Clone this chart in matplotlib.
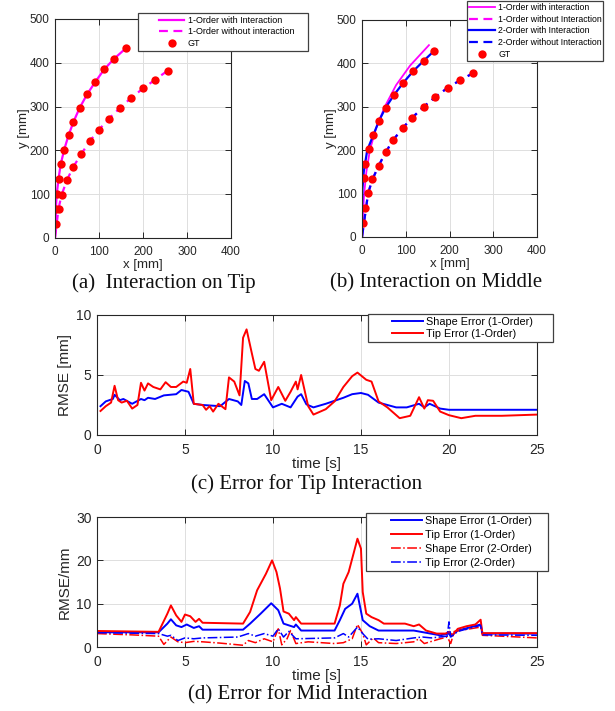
import numpy as np
import matplotlib
matplotlib.use("Agg")
import matplotlib.pyplot as plt
from matplotlib.lines import Line2D
from matplotlib.legend_handler import HandlerLine2D

plt.rcParams['font.family'] = ['Liberation Sans', 'DejaVu Sans']

# ---- (a) Interaction on Tip : GT points [mm]
a_up_x = [2, 2, 4, 8, 13, 21, 31, 42, 56, 73, 92, 112, 134, 161]
a_up_y = [33, 67, 100, 135, 168, 202, 235, 265, 297, 328, 357, 385, 409, 433]
a_lo_x = [8, 15, 27, 42, 60, 79, 99, 122, 147, 173, 201, 227, 256]
a_lo_y = [67, 98, 132, 163, 192, 221, 246, 272, 296, 320, 342, 361, 382]

# ---- (b) Interaction on Middle : GT points and model curves [mm]
b_up_x = [2, 6, 5, 8, 16, 26, 39, 54, 73, 94, 117, 141, 164]
b_up_y = [33, 67, 135, 169, 202, 235, 268, 298, 327, 355, 382, 406, 428]
b_lo_x = [14, 24, 38, 54, 71, 93, 115, 141, 167, 196, 224, 253]
b_lo_y = [101, 133, 164, 195, 223, 251, 275, 300, 322, 344, 361, 377]
b_m1_x = [0, 2, 5, 10, 18, 32, 52, 78, 110, 153]
b_m1_y = [0, 50, 100, 150, 200, 250, 300, 350, 395, 442]
b_m2_x = [0, 0, 1, 4, 12, 26, 39, 54, 73, 94, 117, 141, 164]
b_m2_y = [0, 60, 110, 150, 200, 235, 268, 298, 327, 355, 382, 406, 428]

# ---- (c) Error for Tip Interaction
c_shape_t = [0.2, 0.5, 0.9, 1.0, 1.3, 1.5, 2.0, 2.5, 2.7, 2.9, 3.3, 3.8, 4.5, 4.8, 5.2, 5.5, 6.0,
             7.0, 7.5, 8.0, 8.2, 8.4, 8.6, 8.8, 9.1, 9.5, 10.0, 10.5, 11.0, 11.4, 11.6, 11.9, 12.3,
             13.0, 13.5, 14.0, 14.5, 15.0, 15.4, 16.0, 17.0, 17.6, 18.3, 18.6, 18.9, 19.5, 20.0, 25.0]
c_shape_v = [2.4, 2.8, 3.0, 3.35, 2.9, 3.0, 2.6, 3.0, 2.9, 3.1, 3.0, 3.3, 3.4, 3.75, 3.6, 2.6, 2.5,
             2.4, 3.0, 2.8, 2.5, 4.5, 4.3, 3.0, 3.0, 3.4, 2.3, 2.6, 2.3, 3.2, 3.4, 2.55, 2.3,
             2.6, 2.85, 3.1, 3.4, 3.5, 3.35, 2.7, 2.3, 2.3, 2.6, 2.3, 2.6, 2.2, 2.1, 2.1]
c_tip_t = [0.2, 0.5, 0.8, 1.0, 1.2, 1.4, 1.7, 2.0, 2.3, 2.5, 2.7, 2.9, 3.2, 3.6, 3.9, 4.2, 4.5,
           4.9, 5.1, 5.3, 5.5, 6.0, 6.2, 6.4, 6.6, 6.9, 7.3, 7.5, 7.8, 8.1, 8.3, 8.5, 8.8, 9.0,
           9.2, 9.5, 9.9, 10.3, 10.7, 11.0, 11.3, 11.4, 11.6, 12.0, 12.3, 13.0, 13.5, 14.0, 14.5,
           14.8, 15.3, 15.6, 16.0, 16.5, 17.2, 17.8, 18.3, 18.6, 18.8, 19.1, 19.5, 20.0, 20.7,
           21.5, 23.0, 25.0]
c_tip_v = [2.0, 2.4, 2.7, 4.1, 2.9, 2.7, 2.85, 2.2, 2.5, 4.35, 3.7, 4.3, 4.0, 3.8, 4.4, 4.0, 4.0,
           4.45, 4.35, 5.5, 2.6, 2.5, 2.1, 2.4, 1.95, 2.6, 2.15, 4.8, 4.45, 3.3, 8.1, 8.8, 6.8, 5.5,
           5.35, 6.1, 2.9, 4.0, 2.85, 3.6, 4.45, 3.8, 5.0, 2.4, 1.7, 2.15, 2.8, 4.0, 4.9,
           5.2, 4.6, 4.45, 2.8, 2.3, 1.4, 1.6, 3.15, 2.2, 2.9, 2.85, 1.95, 1.65, 1.4,
           1.6, 1.6, 1.7]

# ---- (d) Error for Mid Interaction
d_tip1_t = [0, 3.5, 4.0, 4.2, 4.5, 4.8, 5.0, 5.3, 5.6, 5.8, 6.0, 8.3, 8.7, 9.1, 9.6, 9.95, 10.2,
            10.4, 10.6, 10.9, 11.2, 11.3, 11.6, 13.5, 13.8, 14.0, 14.3, 14.6, 14.8, 15.0, 15.1,
            15.3, 15.6, 16.0, 16.3, 17.5, 18.0, 18.3, 18.7, 19.3, 19.8, 20.0, 20.2, 20.5, 21.0,
            21.5, 21.8, 21.9, 25.0]
d_tip1_v = [3.7, 3.5, 7.7, 9.6, 7.3, 5.8, 7.5, 7.1, 5.8, 6.5, 5.6, 5.4, 8.1, 13.1, 16.9, 20.0, 17.3,
            13.5, 8.2, 7.7, 6.2, 6.9, 5.4, 5.4, 9.6, 14.6, 17.3, 21.9, 25.0, 22.7, 12.7,
            7.7, 6.9, 6.2, 5.4, 5.4, 4.8, 5.2, 3.8, 3.1, 3.1, 3.5, 2.7, 4.2, 4.8,
            5.2, 6.3, 3.2, 3.2]
d_shape1_t = [0, 3.5, 4.0, 4.2, 4.5, 4.8, 5.1, 5.5, 5.8, 6.0, 8.3, 8.7, 9.3, 9.9, 10.3, 10.6,
              11.2, 11.3, 11.6, 13.5, 13.8, 14.1, 14.5, 14.8, 15.1, 15.5, 16.0, 18.0, 19.5, 20.0,
              20.1, 20.5, 21.8, 21.9, 25.0]
d_shape1_v = [3.4, 3.4, 5.4, 6.4, 5.0, 4.6, 5.2, 4.4, 4.8, 4.0, 4.0, 5.4, 7.7, 10.1, 8.5, 5.4,
              4.6, 5.2, 3.8, 3.8, 6.2, 8.8, 10.0, 12.3, 6.2, 4.8, 3.8, 3.8, 2.7, 3.1,
              2.5, 3.8, 5.2, 3.1, 3.1]
d_shape2_t = [0, 2.0, 3.5, 3.8, 4.2, 4.6, 5.0, 5.5, 6.0, 7.0, 8.3, 8.6, 9.0, 9.5, 10.0, 10.3, 10.5,
              10.8, 11.0, 11.3, 12.0, 13.5, 14.0, 14.5, 14.8, 15.1, 15.3, 15.7, 16.0, 17.0, 18.0,
              18.3, 18.6, 19.5, 19.9, 20.1, 20.3, 20.6, 21.8, 21.9, 23.0, 25.0]
d_shape2_v = [3.1, 2.8, 2.5, 0.6, 2.3, 1.2, 1.0, 1.3, 1.2, 0.9, 0.4, 1.5, 1.0, 1.9, 1.2, 4.2, 0.5,
              1.9, 3.8, 0.8, 1.2, 0.8, 1.0, 1.9, 5.2, 3.1, 0.5, 2.1, 1.0, 0.8, 1.2,
              1.9, 0.8, 1.9, 2.3, 0.8, 3.6, 3.8, 4.6, 2.7, 2.5, 2.1]
d_tip2_t = [0, 3.5, 4.0, 4.2, 4.6, 5.0, 5.5, 6.0, 8.0, 8.6, 9.0, 9.5, 10.0, 10.3, 10.6, 10.9, 11.3,
            13.5, 14.0, 14.3, 14.8, 15.1, 15.4, 16.0, 17.0, 18.0, 18.5, 19.0, 19.9, 20.0, 20.1,
            20.5, 21.8, 21.9, 25.0]
d_tip2_v = [3.3, 3.1, 2.5, 2.7, 1.5, 2.1, 1.9, 2.1, 2.3, 3.1, 2.5, 3.1, 2.5, 4.2, 2.3, 3.6, 1.9,
            2.1, 3.1, 2.3, 4.6, 3.1, 1.8, 1.9, 1.5, 2.1, 2.3, 2.1, 2.5, 5.8, 2.3,
            3.6, 5.0, 2.8, 2.7]

MAG = '#ff00ff'
RED = '#ff0000'
BLUE = '#0000ff'
DARK = '#262626'


def matlab_style(ax, size):
    ax.grid(True, color='#dedede', lw=0.7)
    ax.set_axisbelow(True)
    ax.tick_params(direction='in', top=True, right=True, length=4, width=0.7,
                   labelsize=size, colors=DARK)
    ax.tick_params(axis='x', pad=5.5)
    ax.tick_params(axis='y', pad=4)
    for s in ax.spines.values():
        s.set_color(DARK)
        s.set_linewidth(0.8)


def matlab_legend(ax, box, fs, xpad, hl, htp, bp, ls):
    # box = left, top, width in figure fraction
    x0, top, w = box
    leg = ax.legend(loc='upper left', bbox_to_anchor=(x0, top - 0.05, w, 0.05),
                    bbox_transform=fig.transFigure, mode='expand', borderaxespad=0,
                    fontsize=fs, handlelength=hl, handletextpad=htp, borderpad=bp,
                    labelspacing=ls, fancybox=False, framealpha=1,
                    handler_map={Line2D: HandlerLine2D(xpad=xpad)})
    fr = leg.get_frame()
    fr.set_edgecolor('#404040')
    fr.set_linewidth(0.9)
    return leg


fig = plt.figure(figsize=(6.15, 7.11), dpi=100)

# (a)
axa = fig.add_axes([0.0894, 0.6653, 0.2862, 0.308])
axa.plot([0] + a_up_x, [0] + a_up_y, color=MAG, lw=1.6, label='1-Order with Interaction')
axa.plot([0] + a_lo_x, [0] + a_lo_y, color=MAG, lw=1.6, ls=(0, (4, 2.5)),
         label='1-Order without interaction')
axa.plot(a_up_x + a_lo_x, a_up_y + a_lo_y, 'o', color=RED, ms=6, mec='none', label='GT')
axa.set_xlim(0, 400)
axa.set_ylim(0, 500)
axa.set_xticks([0, 100, 200, 300, 400])
axa.set_yticks([0, 100, 200, 300, 400, 500])
matlab_style(axa, 8.5)
axa.set_xlabel('x [mm]', fontsize=9.5, color=DARK, labelpad=1)
axa.set_ylabel('y [mm]', fontsize=9.5, color=DARK, labelpad=0)
matlab_legend(axa, (0.2244, 0.9817, 0.2764), 6.5, 2.0, 4.85, 0.35, 0.3, 0.3)

# (b)
axb = fig.add_axes([0.5886, 0.6667, 0.2846, 0.3052])
axb.plot(b_m1_x, b_m1_y, color=MAG, lw=1.3, label='1-Order with interaction')
axb.plot([0] + b_lo_x, [0] + b_lo_y, color=MAG, lw=1.6, ls=(0, (4, 2.5)),
         label='1-Order without Interaction')
axb.plot(b_m2_x, b_m2_y, color=BLUE, lw=1.6, label='2-Order with Interaction')
axb.plot([0] + b_lo_x, [0] + b_lo_y, color=BLUE, lw=1.6, ls=(0, (4, 2.5)),
         label='2-Order without Interaction')
axb.plot(b_up_x + b_lo_x, b_up_y + b_lo_y, 'o', color=RED, ms=6, mec='none', label='GT')
axb.set_xlim(0, 400)
axb.set_ylim(0, 500)
axb.set_xticks([0, 100, 200, 300, 400])
axb.set_yticks([0, 100, 200, 300, 400, 500])
matlab_style(axb, 8.5)
axb.set_xlabel('x [mm]', fontsize=9.5, color=DARK, labelpad=1)
axb.set_ylabel('y [mm]', fontsize=9.5, color=DARK, labelpad=0)
matlab_legend(axb, (0.7593, 0.9986, 0.2211), 6.3, 0.0, 3.0, 0.35, 0.25, 0.3)

# (c)
axc = fig.add_axes([0.1577, 0.3882, 0.7154, 0.1688])
axc.plot(c_shape_t, c_shape_v, color=BLUE, lw=1.4, label='Shape Error (1-Order)')
axc.plot(c_tip_t, c_tip_v, color=RED, lw=1.4, label='Tip Error (1-Order)')
axc.set_xlim(0, 25)
axc.set_ylim(0, 10)
axc.set_xticks([0, 5, 10, 15, 20, 25])
axc.set_yticks([0, 5, 10])
matlab_style(axc, 10)
axc.set_xlabel('time [s]', fontsize=11, color=DARK, labelpad=0)
axc.set_ylabel('RMSE [mm]', fontsize=11, color=DARK, labelpad=3)
matlab_legend(axc, (0.5984, 0.5584, 0.3008), 7.8, 2.0, 4.8, 0.3, 0.25, 0.2)

# (d)
axd = fig.add_axes([0.1577, 0.09, 0.7154, 0.1828])
axd.plot(d_shape1_t, d_shape1_v, color=BLUE, lw=1.4, label='Shape Error (1-Order)')
axd.plot(d_tip1_t, d_tip1_v, color=RED, lw=1.4, label='Tip Error (1-Order)')
axd.plot(d_shape2_t, d_shape2_v, color=RED, lw=1.1, ls='-.', label='Shape Error (2-Order)')
axd.plot(d_tip2_t, d_tip2_v, color=BLUE, lw=1.1, ls='-.', label='Tip Error (2-Order)')
axd.set_xlim(0, 25)
axd.set_ylim(0, 30)
axd.set_xticks([0, 5, 10, 15, 20, 25])
axd.set_yticks([0, 10, 20, 30])
matlab_style(axd, 10)
axd.set_xlabel('time [s]', fontsize=11, color=DARK, labelpad=0)
axd.set_ylabel('RMSE/mm', fontsize=11, color=DARK, labelpad=3)
matlab_legend(axd, (0.5951, 0.2785, 0.2959), 7.8, 2.0, 4.9, 0.25, 0.3, 0.35)

# captions
cap = dict(family=['Liberation Serif', 'DejaVu Serif'], fontsize=15, ha='center', va='center',
           color='#111111')
fig.text(0.2667, 0.602, '(a)  Interaction on Tip', **cap)
fig.text(0.709, 0.602, '(b) Interaction on Middle', **cap)
fig.text(0.499, 0.3193, '(c) Error for Tip Interaction', **cap)
fig.text(0.5, 0.0225, '(d) Error for Mid Interaction', **cap)

fig.savefig('out.png', dpi=100)
